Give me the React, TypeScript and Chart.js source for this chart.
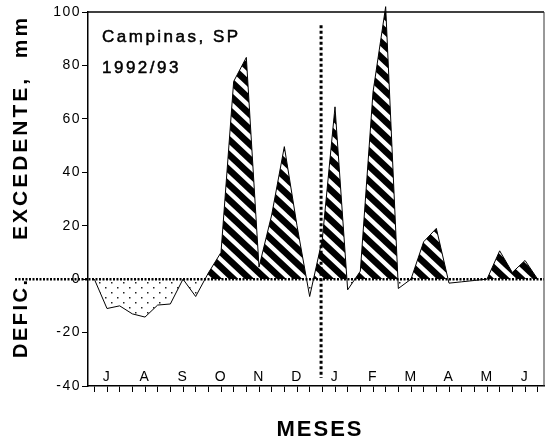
import { useEffect, useRef } from 'react';
import { Chart, registerables } from 'chart.js';

Chart.register(...registerables);

// ---- data ----
const months = ['J', 'A', 'S', 'O', 'N', 'D', 'J', 'F', 'M', 'A', 'M', 'J'];
const decendios = months.flatMap((m, mi) => [1, 2, 3].map((d) => `${m}${mi}-${d}`));
// water balance per 10-day period (mm): positive = excedente, negative = deficit
const balance = [
  0, -11, -10, -13, -14.2, -9.7, -9.3, 0, -6.5,
  2.3, 10, 74, 83, 4.5, 24, 49.6, 20, -6.5,
  15, 64.5, -4, 3, 70, 102, -3.5, 0, 14,
  19, -1.5, -1, -0.5, 0, 10.6, 2.5, 7, 0,
];
const yTickValues = [-40, -20, 0, 20, 40, 60, 80, 100];
const stationLabel = 'Campinas, SP';
const periodLabel = '1992/93';
const yTitleTop = 'EXCEDENTE,  mm';
const yTitleBottom = 'DEFIC.';
const xTitle = 'MESES';
const dividerIndex = 17.9;
const dividerTop = 95;
const dividerBottom = -37;
const monthLabelLevel = -33.5;

const FONT = "'Liberation Sans', Arial, Helvetica, sans-serif";

function makeHatch(ctx: CanvasRenderingContext2D) {
  const W = 16, H = 15;
  const t = document.createElement('canvas');
  t.width = W; t.height = H;
  const c = t.getContext('2d')!;
  c.fillStyle = '#fff';
  c.fillRect(0, 0, W, H);
  c.strokeStyle = '#000';
  c.lineWidth = 6.5;
  for (const k of [-1, 0, 1]) {
    c.beginPath();
    c.moveTo(k * W - W, -H);
    c.lineTo(k * W + 2 * W, 2 * H);
    c.stroke();
  }
  return ctx.createPattern(t, 'repeat')!;
}

function makeDots(ctx: CanvasRenderingContext2D) {
  const W = 12, H = 10;
  const t = document.createElement('canvas');
  t.width = W; t.height = H;
  const c = t.getContext('2d')!;
  c.fillStyle = '#fff';
  c.fillRect(0, 0, W, H);
  c.fillStyle = '#222';
  c.fillRect(3, 2, 1.5, 1.5);
  c.fillRect(9, 7, 1.5, 1.5);
  return ctx.createPattern(t, 'repeat')!;
}

const spacingPlugin = {
  id: 'spacing',
  beforeUpdate(chart: any) { chart.ctx.letterSpacing = '1.5px'; },
  beforeDraw(chart: any) { chart.ctx.letterSpacing = '1.5px'; },
};

function boldText(ctx: CanvasRenderingContext2D, s: string, x: number, y: number, w: number) {
  ctx.fillText(s, x, y);
  ctx.lineWidth = w;
  ctx.strokeStyle = '#000';
  ctx.strokeText(s, x, y);
}

const decorPlugin = {
  id: 'decor',
  afterDraw(chart: any) {
    const { ctx, chartArea: a, scales } = chart;
    const x = scales.x, y = scales.y;
    ctx.save();
    // frame top / right
    ctx.strokeStyle = '#000';
    ctx.lineWidth = 1.5;
    ctx.beginPath();
    ctx.moveTo(a.left, a.top);
    ctx.lineTo(a.right, a.top);
    ctx.stroke();
    ctx.lineWidth = 1;
    ctx.strokeStyle = '#333';
    ctx.beginPath();
    ctx.moveTo(a.right, a.top);
    ctx.lineTo(a.right, a.bottom);
    ctx.stroke();
    // zero line (dotted), extended to the left
    const y0 = y.getPixelForValue(0);
    ctx.strokeStyle = '#000';
    ctx.lineWidth = 2.5;
    ctx.setLineDash([2, 1.5]);
    ctx.beginPath();
    ctx.moveTo(15, y0);
    ctx.lineTo(a.right, y0);
    ctx.stroke();
    // vertical divider
    const xd = x.getPixelForValue(dividerIndex);
    ctx.lineWidth = 3;
    ctx.setLineDash([3, 2.5]);
    ctx.beginPath();
    ctx.moveTo(xd, y.getPixelForValue(dividerTop));
    ctx.lineTo(xd, y.getPixelForValue(dividerBottom));
    ctx.stroke();
    ctx.setLineDash([]);
    // texts
    ctx.fillStyle = '#000';
    ctx.textAlign = 'left';
    ctx.textBaseline = 'alphabetic';
    ctx.letterSpacing = '2.5px';
    ctx.font = `17px ${FONT}`;
    boldText(ctx, stationLabel, a.left + 14, a.top + 30, 0.5);
    boldText(ctx, periodLabel, a.left + 14, a.top + 61, 0.5);
    // x title
    ctx.font = `bold 22px ${FONT}`;
    ctx.letterSpacing = '2px';
    ctx.textAlign = 'center';
    ctx.fillText(xTitle, (a.left + a.right) / 2 + 4, 436);
    // y titles (rotated)
    ctx.textAlign = 'left';
    ctx.textBaseline = 'middle';
    ctx.font = `bold 21px ${FONT}`;
    ctx.letterSpacing = '3px';
    ctx.save();
    ctx.translate(21, 240);
    ctx.rotate(-Math.PI / 2);
    ctx.fillText(yTitleTop, 0, 0);
    ctx.restore();
    ctx.font = `bold 20px ${FONT}`;
    ctx.letterSpacing = '2.5px';
    ctx.save();
    ctx.translate(21, 358);
    ctx.rotate(-Math.PI / 2);
    ctx.fillText(yTitleBottom, 0, 0);
    ctx.restore();
    ctx.restore();
  },
};

export default function App() {
  const ref = useRef<HTMLCanvasElement>(null);
  useEffect(() => {
    const canvas = ref.current!;
    const ctx = canvas.getContext('2d')!;
    const hatch = makeHatch(ctx);
    const dots = makeDots(ctx);
    const chart = new Chart(canvas, {
      type: 'line',
      data: {
        labels: decendios,
        datasets: [
          {
            data: balance,
            borderColor: '#000',
            borderWidth: 1,
            pointRadius: 0,
            tension: 0,
            clip: false,
            fill: { target: { value: 0 }, above: hatch, below: dots },
          } as any,
        ],
      },
      options: {
        animation: false,
        responsive: false,
        devicePixelRatio: 1,
        layout: { padding: { top: 12, right: 11, left: 0, bottom: 0 } },
        plugins: { legend: { display: false }, tooltip: { enabled: false } },
        scales: {
          x: {
            type: 'category',
            offset: true,
            position: 'bottom',
            grid: { drawOnChartArea: false, drawTicks: true, tickLength: 6, color: '#000', offset: false },
            border: { display: true, color: '#000', width: 1.5 },
            ticks: { display: false, autoSkip: false },
            afterFit: (s: any) => { s.height = 56; },
          },
          xm: {
            type: 'category',
            offset: true,
            position: { y: monthLabelLevel },
            grid: { display: false, drawTicks: false },
            border: { display: false },
            ticks: {
              autoSkip: false,
              maxRotation: 0,
              padding: 0,
              color: '#000',
              font: { family: FONT, size: 14 },
              callback: (_v: any, i: number) => (i % 3 === 1 ? months[Math.floor(i / 3)] : ''),
            },
          },
          y: {
            type: 'linear',
            min: -40,
            max: 100,
            afterBuildTicks: (s: any) => { s.ticks = yTickValues.map((v) => ({ value: v })); },
            grid: { drawOnChartArea: false, drawTicks: true, tickLength: 6, color: '#000' },
            border: { display: true, color: '#000', width: 1.5 },
            ticks: { color: '#000', padding: 1, font: { family: FONT, size: 14 } },
            afterFit: (s: any) => { s.width = 88; },
          },
        },
      },
      plugins: [spacingPlugin, decorPlugin],
    });
    return () => chart.destroy();
  }, []);
  return (
    <canvas
      ref={ref}
      width={555}
      height={442}
      style={{ position: 'absolute', left: 0, top: 0, width: 555, height: 442 }}
    />
  );
}
